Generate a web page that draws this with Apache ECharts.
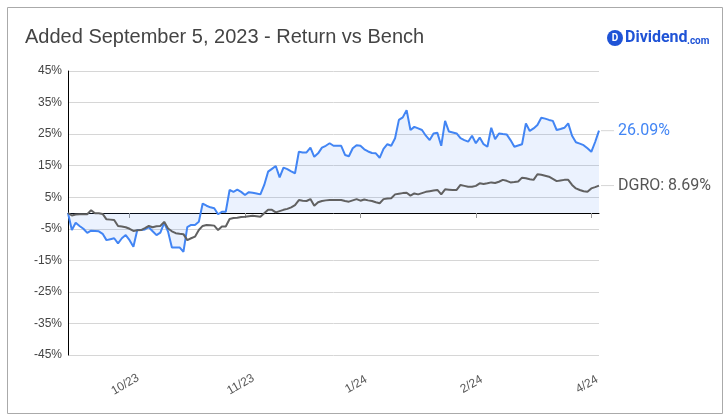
<!DOCTYPE html>
<html>
<head>
<meta charset="utf-8">
<script src="https://cdn.jsdelivr.net/npm/echarts@6/dist/echarts.min.js"></script>
<style>
  html, body { margin: 0; padding: 0; background: #fff; }
  #chart { width: 728px; height: 419px; }
</style>
</head>
<body>
<div id="chart"></div>
<script>
  // return of the pick, in % since Sept 5, 2023
  var pickReturn = [
    0, -5.4, -3.1, -4.1, -5.0, -6.3, -5.6, -5.7, -5.8, -6.6,
    -8.6, -8.3, -8.0, -9.6, -8.0, -7.0, -8.6, -10.7, -5.4, -5.4,
    -5.2, -4.5, -5.8, -7.0, -6.2, -3.1, -5.9, -10.9, -10.9, -10.9,
    -12.3, -4.5, -3.8, -3.8, -2.8, 3.0, 2.3, 1.8, 1.5, -0.4,
    0.4, 0.4, 7.3, 6.7, 7.4, 6.7, 5.7, 6.6, 6.4, 6.2,
    5.9, 8.9, 13.1, 14.0, 14.9, 11.3, 14.4, 13.9, 13.2, 12.6,
    19.4, 19.2, 19.2, 20.7, 17.8, 18.9, 20.7, 21.3, 22.1, 21.3,
    21.3, 21.3, 18.4, 18.0, 20.5, 21.5, 21.3, 20.2, 19.5, 19.0,
    18.9, 17.5, 20.3, 21.8, 21.3, 23.7, 29.5, 30.3, 32.6, 26.3,
    27.3, 26.8, 26.3, 24.5, 23.1, 25.2, 25.4, 21.3, 29.2, 25.8,
    25.5, 25.2, 23.7, 23.1, 22.6, 24.5, 22.1, 23.9, 21.8, 21.0,
    27.0, 23.4, 25.2, 25.0, 24.9, 23.1, 21.0, 21.4, 21.8, 28.4,
    26.0, 26.8, 27.9, 30.2, 29.9, 29.5, 29.2, 26.3, 26.6, 27.0,
    28.4, 24.5, 22.4, 22.0, 21.5, 20.5, 19.4, 22.5, 26.09
  ];
  // benchmark DGRO
  var benchReturn = [
    0, -0.8, -0.5, -0.4, -0.4, -0.4, 0.9, -0.1, -0.1, -0.3,
    -2.0, -2.1, -2.2, -4.1, -4.3, -4.5, -5.0, -5.7, -5.5, -5.4,
    -4.8, -4.1, -4.5, -4.2, -4.1, -2.8, -4.9, -5.8, -6.4, -6.6,
    -6.7, -8.6, -8.0, -7.5, -5.4, -4.1, -3.8, -3.9, -4.0, -5.4,
    -4.3, -4.3, -1.9, -1.6, -1.5, -1.3, -1.2, -1.0, -0.9, -1.0,
    -1.2, -0.1, 1.0, 1.0, 0.2, 0.6, 1.0, 1.3, 1.8, 2.5,
    4.1, 3.9, 3.8, 4.4, 2.3, 3.4, 3.8, 4.0, 4.1, 4.1,
    4.1, 4.1, 3.8, 3.6, 4.0, 4.4, 3.9, 4.3, 4.0, 3.8,
    3.4, 3.1, 4.4, 4.6, 4.7, 5.9, 6.1, 6.3, 6.4, 5.5,
    6.2, 5.9, 6.3, 6.7, 6.9, 7.1, 7.3, 5.9, 7.5, 7.4,
    7.3, 7.3, 8.9, 8.6, 8.3, 8.3, 8.6, 9.4, 9.2, 9.4,
    9.7, 9.5, 9.9, 10.5, 10.2, 9.7, 9.8, 10.0, 11.2, 11.0,
    10.7, 10.5, 12.3, 12.1, 11.8, 11.5, 10.8, 10.1, 10.3, 10.5,
    10.5, 8.9, 7.8, 7.3, 6.9, 6.7, 7.8, 8.2, 8.69
  ];
  var tickIdx = [16, 46, 76, 106, 136];
  var tickText = ['10/23', '11/23', '1/24', '2/24', '4/24'];
  var benchName = 'DGRO';

  var categories = [];
  for (var i = 0; i < pickReturn.length; i++) categories.push(String(i));

  function isTick(idx) { return tickIdx.indexOf(idx) >= 0; }

  var myChart = echarts.init(document.getElementById('chart'));
  var axisFont = 'Arial, "Liberation Sans", sans-serif';

  var option = {
    animation: false,
    textStyle: { fontFamily: axisFont },
    grid: { left: 68, right: 129, top: 71, bottom: 64 },
    graphic: [
      {
        type: 'rect', left: 5, top: 5, z: -1,
        shape: { width: 715, height: 406 },
        style: { fill: 'none', stroke: '#aaaaaa', lineWidth: 1 }
      },
      {
        type: 'text', left: 25, top: 27,
        style: { text: 'Added September 5, 2023 - Return vs Bench', fill: '#444', font: '20px ' + axisFont }
      },
      {
        type: 'circle', shape: { cx: 615, cy: 38, r: 8 },
        style: { fill: '#1f53d6' }
      },
      {
        type: 'text', x: 615, y: 38,
        style: { text: 'D', fill: '#fff', font: 'bold 10px Roboto, sans-serif', align: 'center', verticalAlign: 'middle' }
      },
      {
        type: 'text', x: 625, y: 38,
        style: { text: 'Dividend', fill: '#1f53d6', font: 'bold 16px Roboto, sans-serif', verticalAlign: 'middle' }
      },
      {
        type: 'text', x: 687, y: 41,
        style: { text: '.com', fill: '#1f53d6', font: 'bold 10px Roboto, sans-serif', verticalAlign: 'middle' }
      }
    ],
    xAxis: {
      type: 'category',
      data: categories,
      boundaryGap: false,
      axisLine: { lineStyle: { color: '#000', width: 1 } },
      axisTick: {
        show: true, length: 5,
        interval: function (idx) { return isTick(idx); },
        lineStyle: { color: '#999' }
      },
      axisLabel: {
        interval: function (idx) { return isTick(idx); },
        formatter: function (v, idx) { return tickText[tickIdx.indexOf(idx)] || ''; },
        rotate: 30,
        align: 'center',
        verticalAlign: 'middle',
        padding: [0, 10, 0, 0],
        margin: 27,
        color: '#555',
        fontSize: 12
      },
      splitLine: { show: false }
    },
    yAxis: {
      type: 'value',
      min: -45, max: 45, interval: 10,
      axisLine: { show: true, lineStyle: { color: '#000', width: 1 } },
      axisTick: { show: false },
      axisLabel: { color: '#444', fontSize: 12, margin: 6, formatter: '{value}%' },
      splitLine: { lineStyle: { color: '#d6d6d6', width: 1 } }
    },
    series: [
      {
        name: 'Return',
        type: 'line',
        data: pickReturn,
        showSymbol: false,
        lineStyle: { color: '#4285f4', width: 2 },
        itemStyle: { color: '#4285f4' },
        areaStyle: { color: 'rgba(66,133,244,0.15)' },
        z: 3,
        endLabel: {
          show: true,
          distance: 2,
          formatter: function (p) { return '{ln|}{t|' + p.value.toFixed(2) + '%}'; },
          rich: {
            ln: { width: 13, height: 1, backgroundColor: '#d6d6d6' },
            t: { color: '#4285f4', fontSize: 16, fontFamily: 'Roboto, sans-serif', padding: [0, 0, 0, 4] }
          }
        }
      },
      {
        name: benchName,
        type: 'line',
        data: benchReturn,
        showSymbol: false,
        lineStyle: { color: '#616161', width: 2 },
        itemStyle: { color: '#616161' },
        z: 4,
        endLabel: {
          show: true,
          distance: 2,
          formatter: function (p) { return '{ln|}{t|' + benchName + ': ' + p.value.toFixed(2) + '%}'; },
          rich: {
            ln: { width: 13, height: 1, backgroundColor: '#d6d6d6' },
            t: { color: '#555', fontSize: 16, fontFamily: 'Roboto, sans-serif', padding: [0, 0, 0, 4] }
          }
        }
      }
    ]
  };

  myChart.setOption(option);
</script>
</body>
</html>
